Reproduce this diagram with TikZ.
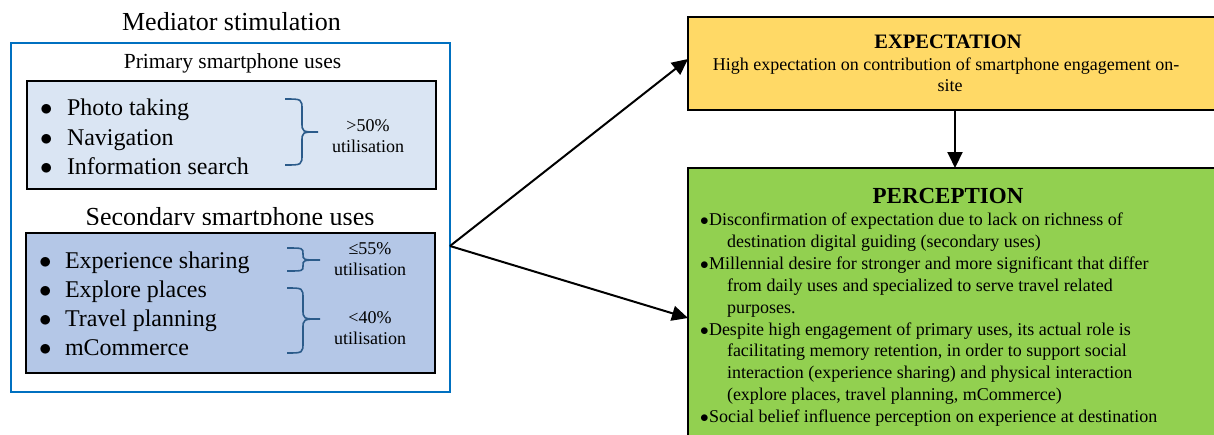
\documentclass[tikz,border=0pt]{standalone}
\usepackage{fontspec}
\setmainfont{Liberation Serif}
\usetikzlibrary{arrows.meta}
\definecolor{outerblue}{HTML}{0070C0}
\definecolor{primfill}{HTML}{DAE5F3}
\definecolor{secfill}{HTML}{B4C7E7}
\definecolor{expfill}{HTML}{FFD966}
\definecolor{perfill}{HTML}{92D050}
\definecolor{bracecol}{HTML}{2B5B8A}
\newcommand{\itembul}{\hspace*{1pt}$\bullet$}
\newcommand{\bodybul}{\makebox[8pt][l]{\hspace*{-1pt}$\bullet$}}
\tikzset{
  txt/.style={inner sep=0pt, outer sep=0pt},
  boxnode/.style={draw=black, line width=1.5pt, anchor=north west, inner sep=0pt, outer sep=0pt},
  itemtxt/.style={txt, anchor=base west, font=\fontsize{24}{28}\selectfont},
  utiltxt/.style={txt, align=center, font=\fontsize{18}{21}\selectfont},
  bodytxt/.style={txt, anchor=base west, font=\fontsize{18}{22}\selectfont},
  bracepath/.style={draw=bracecol, line width=1.6pt},
  arr/.style={line width=2pt, -{Triangle[length=16pt,width=15pt]}}
}
\begin{document}
\begin{tikzpicture}[x=1pt,y=-1pt]
\useasboundingbox (0,0) rectangle (1214,434);
\clip (0,0) rectangle (1214,434);
% left part
\node[txt, anchor=base, font=\fontsize{26}{30}\selectfont] (medtitle) at (231.5,30) {Mediator stimulation};
\node[draw=outerblue, line width=2.4pt, anchor=north west, minimum width=439pt, minimum height=349pt, inner sep=0pt, outer sep=0pt] (outer) at (11,43) {};
\node[txt, anchor=base, font=\fontsize{21.5}{25}\selectfont] (primtitle) at (232.5,68) {Primary smartphone uses};
\node[boxnode, fill=primfill, minimum width=409pt, minimum height=108pt] (prim) at (27,81) {};
\node[itemtxt] (p1) at (39,115) {\makebox[28pt][l]{\itembul}Photo taking};
\node[itemtxt] (p2) at (39,145) {\makebox[28pt][l]{\itembul}Navigation};
\node[itemtxt] (p3) at (39,174) {\makebox[28pt][l]{\itembul}Information search};
\draw[bracepath] (285,99) .. controls (302,99) .. (302,110) -- (302,122) .. controls (302,132) .. (318,132)
  .. controls (302,132) .. (302,142) -- (302,154) .. controls (302,165) .. (285,165);
\node[utiltxt] (u1) at (368,136.5) {>50\%\\utilisation};
\begin{scope}
\clip (12,190) rectangle (449,224);
\node[txt, anchor=base, font=\fontsize{26}{30}\selectfont] (sectitle) at (230,225) {Secondary smartphone uses};
\end{scope}
\node[boxnode, fill=secfill, minimum width=409pt, minimum height=140pt] (sec) at (26,233) {};
\node[itemtxt] (s1) at (38,268) {\makebox[27pt][l]{\itembul}Experience sharing};
\node[itemtxt] (s2) at (38,297) {\makebox[27pt][l]{\itembul}Explore places};
\node[itemtxt] (s3) at (38,326) {\makebox[27pt][l]{\itembul}Travel planning};
\node[itemtxt] (s4) at (38,355) {\makebox[27pt][l]{\itembul}mCommerce};
\draw[bracepath] (287,248) .. controls (303,248) .. (303,254) .. controls (303,260) .. (320,260)
  .. controls (303,260) .. (303,266) .. controls (303,271) .. (287,271);
\node[utiltxt] (u2) at (370,259.5) {≤55\%\\utilisation};
\draw[bracepath] (287,288) .. controls (303,288) .. (303,299) -- (303,309) .. controls (303,319) .. (320,319)
  .. controls (303,319) .. (303,329) -- (303,342) .. controls (303,353) .. (287,353);
\node[utiltxt] (u3) at (370,328) {<40\%\\utilisation};
% right part
\node[boxnode, fill=expfill, minimum width=560pt, minimum height=93pt] (expect) at (688,17) {};
\node[txt, anchor=base, font=\fontsize{20.5}{24}\selectfont\bfseries] (exptitle) at (948,48.5) {EXPECTATION};
\node[txt, anchor=base, font=\fontsize{18}{22}\selectfont] (exp1) at (946,70.5) {High expectation on contribution of smartphone engagement on-};
\node[txt, anchor=base, font=\fontsize{18}{22}\selectfont] (exp2) at (950,91) {site};
\node[boxnode, fill=perfill, minimum width=560pt, minimum height=290pt] (percep) at (688,168) {};
\node[txt, anchor=base, font=\fontsize{23}{27}\selectfont\bfseries] (pertitle) at (948,203) {PERCEPTION};
\node[bodytxt] (l1) at (701,225.5) {\bodybul Disconfirmation of expectation due to lack on richness of};
\node[bodytxt] (l2) at (727,247.4) {destination digital guiding (secondary uses)};
\node[bodytxt] (l3) at (701,269.3) {\bodybul Millennial desire for stronger and more significant that differ};
\node[bodytxt] (l4) at (727,291.2) {from daily uses and specialized to serve travel related};
\node[bodytxt] (l5) at (727,313.1) {purposes.};
\node[bodytxt] (l6) at (701,335.0) {\bodybul Despite high engagement of primary uses, its actual role is};
\node[bodytxt] (l7) at (727,356.9) {facilitating memory retention, in order to support social};
\node[bodytxt] (l8) at (727,378.8) {interaction (experience sharing) and physical interaction};
\node[bodytxt] (l9) at (727,400.7) {(explore places, travel planning, mCommerce)};
\node[bodytxt] (l10) at (701,422.6) {\bodybul Social belief influence perception on experience at destination};
% connectors
\coordinate (start) at (450,246);
\coordinate (expin) at (688,59);
\coordinate (perin) at (688,318);
\coordinate (down) at (955,0);
\draw[arr] (start) -- (expect.west |- expin);
\draw[arr] (start) -- (percep.west |- perin);
\draw[arr] (expect.south -| down) -- (percep.north -| down);
\end{tikzpicture}
\end{document}
